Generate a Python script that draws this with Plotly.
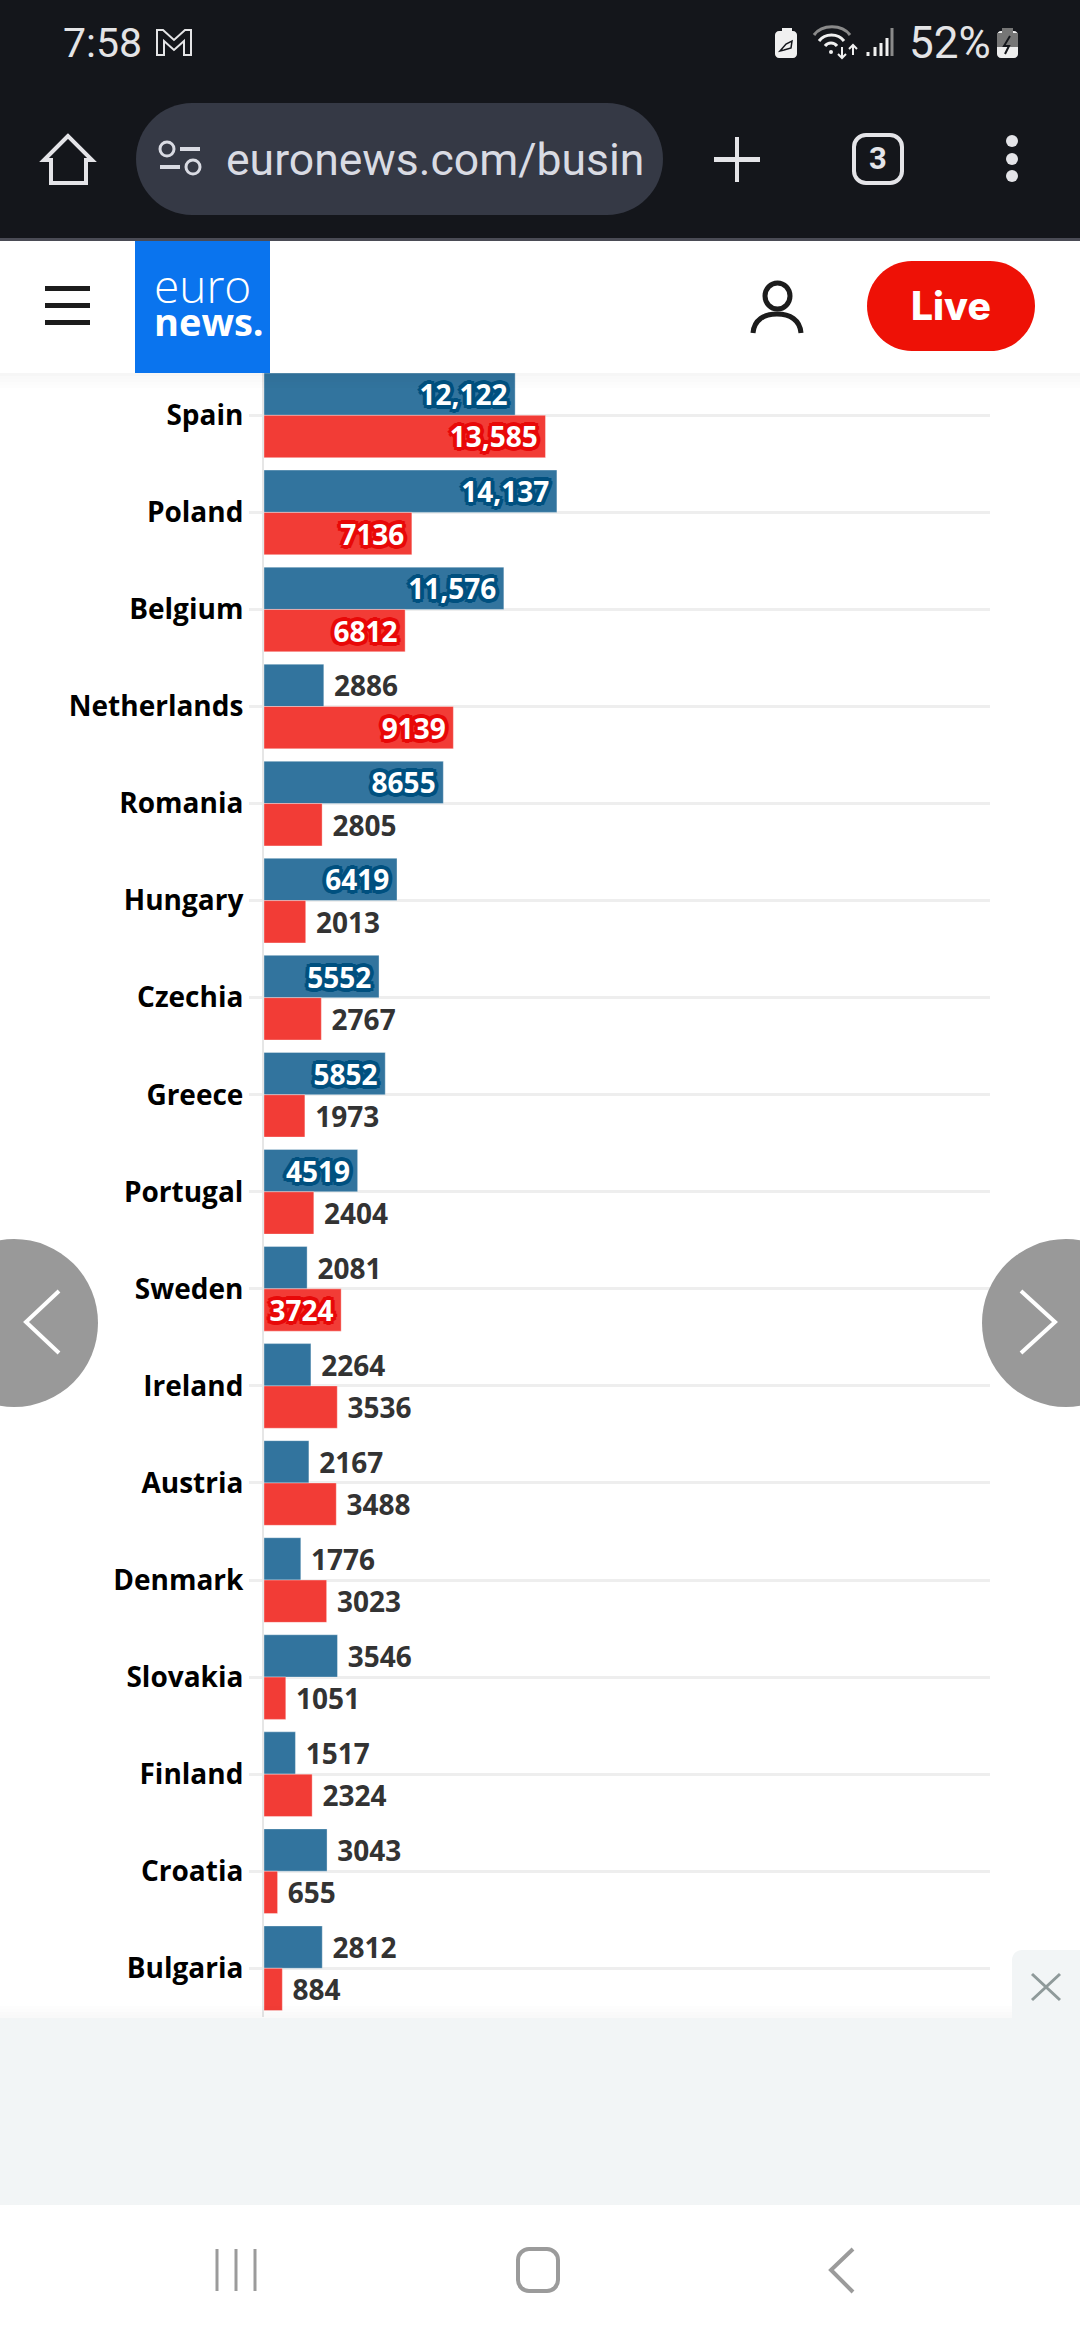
"""
Euronews bar chart, seen in a phone browser screenshot
"""

import plotly.graph_objects as go

COUNTRIES = ["Spain", "Poland", "Belgium", "Netherlands", "Romania", "Hungary", "Czechia",
             "Greece", "Portugal", "Sweden", "Ireland", "Austria", "Denmark", "Slovakia",
             "Finland", "Croatia", "Bulgaria"]
BLUE_VALUES = [12122, 14137, 11576, 2886, 8655, 6419, 5552, 5852, 4519, 2081, 2264, 2167,
               1776, 3546, 1517, 3043, 2812]
RED_VALUES = [13585, 7136, 6812, 9139, 2805, 2013, 2767, 1973, 2404, 3724, 3536, 3488,
              3023, 1051, 2324, 655, 884]

BLUE = "#32749e"
RED = "#f23c36"
FONT = "Open Sans"
CLEAR = "rgba(0,0,0,0)"
W, H = 1080, 2340


def fx(x):
    return x / W


def fy(y):
    return 1 - y / H


def rect(x0, y0, x1, y1, color):
    return dict(type="rect", xref="paper", yref="paper", x0=fx(x0), x1=fx(x1), y0=fy(y0),
                y1=fy(y1), fillcolor=color, line_width=0, layer="above")


def circle(x0, y0, x1, y1, fill, line=None, width=0):
    return dict(type="circle", xref="paper", yref="paper", x0=fx(x0), x1=fx(x1), y0=fy(y0),
                y1=fy(y1), fillcolor=fill, line=dict(color=line, width=width), layer="above")


def path(points, color, width=3, fill=CLEAR):
    """points is a list of svg commands: ("M", x, y), ("L", x, y), ("C", ...), ("Z",)"""
    parts = []
    for p in points:
        coords = []
        for i in range(1, len(p), 2):
            coords.append(f"{fx(p[i]):.5f},{fy(p[i + 1]):.5f}")
        parts.append(p[0] + " ".join(coords))
    return dict(type="path", xref="paper", yref="paper", path=" ".join(parts), fillcolor=fill,
                line=dict(color=color, width=width), layer="above")


def rounded(x0, y0, x1, y1, r, fill, line=CLEAR, width=0):
    k = 0.45 * r
    return path([("M", x0 + r, y0), ("L", x1 - r, y0),
                 ("C", x1 - k, y0, x1, y0 + k, x1, y0 + r), ("L", x1, y1 - r),
                 ("C", x1, y1 - k, x1 - k, y1, x1 - r, y1), ("L", x0 + r, y1),
                 ("C", x0 + k, y1, x0, y1 - k, x0, y1 - r), ("L", x0, y0 + r),
                 ("C", x0, y0 + k, x0 + k, y0, x0 + r, y0), ("Z",)], line, width, fill)


def label(x, y, text, size, color, anchor="left", family="Roboto", weight=400):
    return dict(xref="paper", yref="paper", x=fx(x), y=fy(y), text=text, showarrow=False,
                xanchor=anchor, yanchor="middle", borderpad=0,
                font=dict(family=family, size=size, color=color, weight=weight))


def bar_trace(name, values, color, halo):
    # labels sit inside the bar only when the bar is long enough
    text = []
    position = []
    for v in values:
        number = f"{v:,}" if v >= 10000 else str(v)
        if v > 3600:
            text.append(number + "\u2006")
            position.append("inside")
        else:
            text.append("\u00a0" + number)
            position.append("outside")
    shadow = ", ".join(f"{dx}px {dy}px 0px {halo}" for dx, dy in
                       [(-4, 0), (4, 0), (0, -4), (0, 4), (-3, -3), (3, 3), (-3, 3), (3, -3),
                        (-2, 0), (2, 0), (0, -2), (0, 2)])
    return go.Bar(
        name=name,
        y=COUNTRIES,
        x=values,
        orientation="h",
        text=text,
        textposition=position,
        textangle=0,
        constraintext="none",
        insidetextanchor="end",
        cliponaxis=False,
        marker=dict(color=color, line=dict(color="rgba(255,255,255,0.35)", width=1)),
        insidetextfont=dict(family=FONT, size=28, color="white", weight=700, shadow=shadow),
        outsidetextfont=dict(family=FONT, size=28, color="#333333", weight=700),
        hoverinfo="skip",
    )


fig = go.Figure()
fig.add_trace(bar_trace("blue", BLUE_VALUES, BLUE, "#00507f"))
fig.add_trace(bar_trace("red", RED_VALUES, RED, "#e80808"))

shapes = []
annotations = []

# status bar
shapes.append(rect(0, 0, W, 238, "#14161b"))
shapes.append(rect(0, 238, W, 241, "#4a4b55"))
annotations.append(label(62, 43, "7:58", 41, "#e4e4e6"))
shapes.append(path([("M", 157, 30), ("L", 163, 30), ("L", 174, 40), ("L", 185, 30), ("L", 191, 30),
                    ("L", 191, 55), ("L", 184, 55), ("L", 184, 41), ("L", 174, 50), ("L", 164, 41),
                    ("L", 164, 55), ("L", 157, 55), ("Z",)], "#e4e4e6", 2))
shapes.append(rounded(775, 31, 797, 58, 4, "#f0f0f0"))
shapes.append(rect(782, 28, 792, 33, "#f0f0f0"))
shapes.append(path([("M", 780, 51), ("L", 786, 44), ("L", 792, 41), ("L", 791, 48), ("L", 784, 50),
                    ("Z",)], "#14161b", 1.5))
shapes.append(path([("M", 814, 35), ("C", 822, 24, 842, 24, 850, 35)], "#8a8a8a", 3))
shapes.append(path([("M", 819, 41), ("C", 825, 33, 838, 33, 844, 41)], "#f0f0f0", 3))
shapes.append(path([("M", 825, 46), ("C", 828, 42, 834, 42, 837, 46)], "#f0f0f0", 3))
shapes.append(circle(829, 50, 833, 54, "#f0f0f0"))
shapes.append(path([("M", 842, 47), ("L", 842, 58), ("M", 838, 54), ("L", 842, 58), ("L", 846, 54)],
                   "#f0f0f0", 2))
shapes.append(path([("M", 853, 55), ("L", 853, 45), ("M", 849, 49), ("L", 853, 45), ("L", 857, 49)],
                   "#f0f0f0", 2))
for x, top, color in [(868, 52, "#f0f0f0"), (875, 47, "#f0f0f0"), (881, 43, "#f0f0f0"),
                      (887, 38, "#f0f0f0"), (892, 28, "#8a8a8a")]:
    shapes.append(rect(x - 1.5, top, x + 1.5, 56, color))
annotations.append(label(908, 43, "52%", 44, "#e4e4e6"))
shapes.append(rounded(997, 31, 1018, 58, 4, "#eeeeee"))
shapes.append(rect(997, 33, 1018, 47, "#767676"))
shapes.append(rect(1002, 28, 1013, 33, "#767676"))
shapes.append(path([("M", 1010, 36), ("L", 1004, 46), ("L", 1009, 46), ("L", 1005, 54)],
                   "#14161b", 2))

# browser toolbar
shapes.append(path([("M", 68, 136), ("L", 44, 160), ("L", 51, 160), ("L", 51, 183), ("L", 86, 183),
                    ("L", 86, 160), ("L", 92, 160), ("Z",)], "#e4e4e8", 4))
shapes.append(rounded(136, 103, 663, 215, 56, "#353945"))
shapes.append(circle(160, 142, 174, 156, CLEAR, "#d9dbe3", 3))
shapes.append(rect(180, 147, 200, 151, "#d9dbe3"))
shapes.append(rect(160, 165, 180, 169, "#d9dbe3"))
shapes.append(circle(186, 160, 200, 174, CLEAR, "#d9dbe3", 3))
annotations.append(label(225, 160, "euronews.com/busin", 44.5, "#d9dbe3"))
shapes.append(rect(714, 157, 760, 162, "#e4e4e8"))
shapes.append(rect(735, 137, 739, 182, "#e4e4e8"))
shapes.append(rounded(854, 135, 902, 183, 12, CLEAR, "#e4e4e8", 4))
annotations.append(label(878, 159, "3", 31, "#e4e4e8", "center", weight=700))
for cy in [141, 159, 176]:
    shapes.append(circle(1006, cy - 6, 1018, cy + 6, "#e4e4e8"))

# site header
shapes.append(rect(0, 241, W, 373, "white"))
for i, alpha in enumerate([0.035, 0.025, 0.018, 0.012, 0.006]):
    shapes.append(rect(0, 373 + i * 3, W, 376 + i * 3, f"rgba(0,0,0,{alpha})"))
for top in [286, 303, 320]:
    shapes.append(rect(45, top, 90, top + 5, "#1c1c1c"))
shapes.append(rect(135, 241, 270, 373, "#0a74ee"))
# one text with two lines, the line height comes from the small base size
annotations.append(label(153, 301,
                         "<span style='font-size:46px;font-weight:300'>euro</span><br>"
                         "<span style='font-size:38px;font-weight:700'>news.</span>",
                         25, "white", family="Open Sans"))
annotations[-1]["align"] = "left"
shapes.append(circle(765, 283, 790, 309, CLEAR, "#1c1c1c", 5))
shapes.append(path([("M", 753, 333), ("C", 754, 320, 764, 314, 777, 314),
                    ("C", 790, 314, 800, 320, 801, 333)], "#1c1c1c", 5))
shapes.append(rounded(867, 261, 1035, 351, 45, "#ee1106"))
annotations.append(label(951, 306, "Live", 39, "white", "center", "Inter", 800))

# carousel buttons
shapes.append(circle(-70, 1239, 98, 1407, "#999999"))
shapes.append(circle(982, 1239, 1150, 1407, "#999999"))
shapes.append(path([("M", 59, 1291), ("L", 26, 1322), ("L", 59, 1353)], "white", 4))
shapes.append(path([("M", 1021, 1291), ("L", 1055, 1322), ("L", 1021, 1353)], "white", 4))

# ad panel and phone navigation
for i, alpha in enumerate([0.006, 0.012, 0.018, 0.025]):
    shapes.append(rect(0, 2006 + i * 3, W, 2009 + i * 3, f"rgba(0,0,0,{alpha})"))
shapes.append(rect(0, 2018, W, 2205, "#f2f5f6"))
shapes.append(rounded(1012, 1950, 1100, 2030, 10, "#f2f5f6"))
shapes.append(path([("M", 1032, 1974), ("L", 1060, 2000), ("M", 1060, 1974), ("L", 1032, 2000)],
                   "#8f9a9a", 3))
shapes.append(rect(0, 2205, W, H, "white"))
for x in [217, 236, 255]:
    shapes.append(rect(x - 1.5, 2249, x + 1.5, 2291, "#9b9b9b"))
shapes.append(rounded(518, 2249, 558, 2291, 11, CLEAR, "#9b9b9b", 4))
shapes.append(path([("M", 853, 2249), ("L", 831, 2270), ("L", 853, 2292)], "#9b9b9b", 4))

fig.update_layout(
    width=W,
    height=H,
    margin=dict(l=0, r=0, t=0, b=0),
    paper_bgcolor="white",
    plot_bgcolor="white",
    barmode="group",
    bargap=0.128,
    bargroupgap=0,
    showlegend=False,
    shapes=shapes,
    annotations=annotations,
    xaxis=dict(domain=[264 / W, 990 / W], range=[0, 35040], showgrid=False, zeroline=False,
               showticklabels=False, ticks=""),
    yaxis=dict(domain=[fy(2016.8), fy(366.8)], autorange="reversed", showgrid=True,
               gridcolor="#eeeeee", gridwidth=2.5, showline=True, linecolor="#e6e6e6",
               linewidth=2, ticks="outside", ticklen=13, tickcolor="#eeeeee", tickwidth=2.5,
               tickfont=dict(family=FONT, size=28, color="#000000", weight=700)),
)

fig.write_html("out.html", config={"displayModeBar": False},
               post_script="document.body.style.margin='0';")
